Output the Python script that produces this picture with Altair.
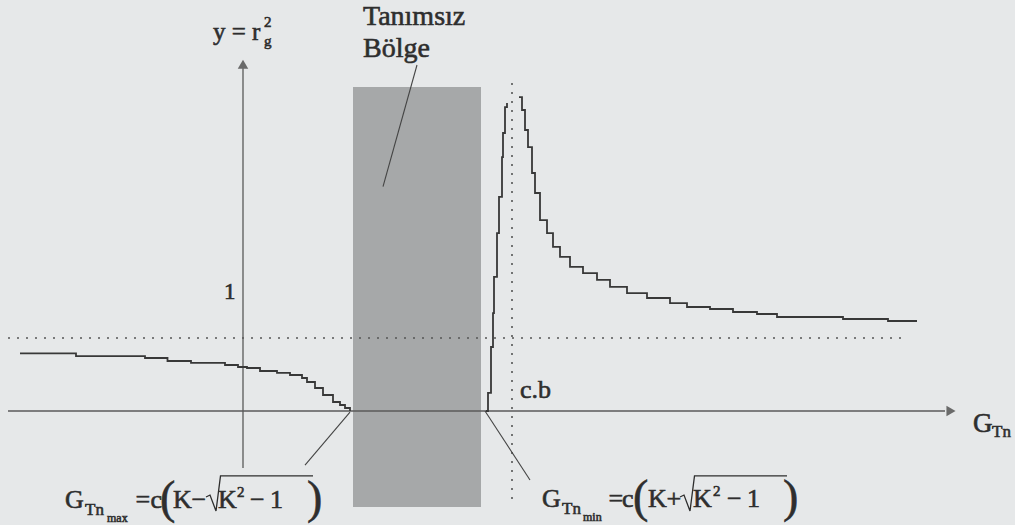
import altair as alt
import pandas as pd

# ---- curve r_g^2 versus G_Tn (step-like plotter trace) ----
left_x = [-2.23, -1.67, -0.98, -0.755, -0.52, -0.18, -0.05, 0.04, 0.17, 0.34, 0.47, 0.59, 0.64, 0.72, 0.80, 0.90, 0.97, 1.02, 1.07]
left_y = [0.79, 0.753, 0.726, 0.685, 0.658, 0.630, 0.603, 0.589, 0.548, 0.521, 0.493, 0.452, 0.397, 0.315, 0.219, 0.123, 0.082, 0.041, 0.0]

rise_x = [2.43, 2.45, 2.48, 2.50, 2.51, 2.54, 2.56, 2.59, 2.60, 2.62, 2.64]
rise_y = [0.0, 0.247, 0.877, 1.342, 1.836, 2.438, 2.932, 3.479, 3.808, 4.164, 4.219]

fall_x = [2.76, 2.79, 2.82, 2.85, 2.89, 2.92, 2.97, 3.04, 3.10, 3.17, 3.27, 3.40, 3.54, 3.67, 3.84,
          4.04, 4.27, 4.44, 4.67, 4.90, 5.14, 5.34, 6.00, 6.45, 6.74]
fall_y = [4.301, 4.123, 3.849, 3.616, 3.260, 2.986, 2.616, 2.438, 2.247, 2.110, 1.973, 1.890, 1.795, 1.699, 1.616,
          1.548, 1.479, 1.425, 1.397, 1.356, 1.329, 1.288, 1.260, 1.233, 1.233]

# key abscissas
g_max = 1.10      # left edge of undefined region
g_min = 2.38      # right edge of undefined region
cb = 2.69         # c.b asymptote
x_axis_end = 7.02
y_axis_top = 4.74

# annotation texts: x, y (baseline), text, font size
lab_x = [-0.30, 0.21, 0.21, 1.20, 1.20, -0.19, 2.77, 7.30, 7.49,
         -1.78, -1.58, -1.36, -1.075, -0.925, -0.83, -0.70, -0.515, -0.25, -0.06, 0.07, 0.27, 0.64,
         2.99, 3.19, 3.40, 3.655, 3.79, 3.90, 4.05, 4.235, 4.50, 4.70, 4.84, 5.04, 5.40]
lab_y = [5.082, 5.00, 5.26, 5.288, 4.849, 1.534, 0.178, -0.288, -0.356,
         -1.329, -1.425, -1.521, -1.329, -1.329, -1.397, -1.329, -1.329, -1.329, -1.178, -1.329, -1.329, -1.397,
         -1.315, -1.411, -1.507, -1.315, -1.315, -1.384, -1.315, -1.315, -1.315, -1.164, -1.315, -1.315, -1.384]
lab_t = ["y = r", "g", "2", "Tanımsız", "Bölge", "1", "c.b", "G", "Tn",
         "G", "Tn", "max", "=", "c", "(", "K", "−", "K", "2", "−", "1", ")",
         "G", "Tn", "min", "=", "c", "(", "K", "+", "K", "2", "−", "1", ")"]
lab_s = [25, 15, 15, 28, 28, 23, 26, 27, 17,
         26, 17, 12, 26, 26, 46, 26, 26, 26, 15, 26, 26, 46,
         26, 17, 12, 26, 26, 46, 26, 26, 26, 15, 26, 26, 46]

# radical signs with their bars
rad_x = [-0.37, -0.33, -0.27, -0.225, 0.70, 4.37, 4.41, 4.47, 4.515, 5.44]
rad_y = [-1.178, -1.151, -1.370, -0.890, -0.890, -1.178, -1.151, -1.370, -0.890, -0.890]
rad_g = ["a"] * 5 + ["b"] * 5

XDOM = [-2.43, 7.72]
YDOM = [-1.5616, 5.6301]
INK = "#2e2e2e"
FONT = "Liberation Serif"

xs = alt.Scale(domain=XDOM, nice=False, zero=False)
ys = alt.Scale(domain=YDOM, nice=False, zero=False)
X = lambda f: alt.X(f, type="quantitative", scale=xs, axis=None)
Y = lambda f: alt.Y(f, type="quantitative", scale=ys, axis=None)

curve = pd.DataFrame({
    "x": left_x + rise_x + fall_x,
    "y": left_y + rise_y + fall_y,
    "branch": ["left"] * len(left_x) + ["rise"] * len(rise_x) + ["fall"] * len(fall_x),
})

region = pd.DataFrame({"x": [g_max], "x2": [g_min], "y": [4.438], "y2": [-1.315]})

axes = pd.DataFrame({
    "x": [-2.35, 0.0], "x2": [x_axis_end, 0.0],
    "y": [0.0, -0.78], "y2": [0.0, y_axis_top],
})

dots = pd.DataFrame({
    "x": [-2.35, cb], "x2": [6.60, cb],
    "y": [1.0, 4.493], "y2": [1.0, -1.219],
})

leaders = pd.DataFrame({
    "x": [1.74, 1.07, 2.42], "x2": [1.40, 0.62, 2.87],
    "y": [4.740, -0.014, 0.0], "y2": [3.073, -0.740, -0.945],
})

heads = pd.DataFrame({"x": [0.0, 7.08], "y": [4.75, 0.0], "shape": ["triangle-up", "triangle-right"]})

labels = pd.DataFrame({"x": lab_x, "y": lab_y, "t": lab_t, "s": lab_s})
rad = pd.DataFrame({"x": rad_x, "y": rad_y, "g": rad_g})

shade = alt.Chart(region).mark_rect(color="#a6a8a9").encode(x=X("x"), x2="x2", y=Y("y"), y2="y2")

dotted = alt.Chart(dots).mark_rule(color="#555555", strokeWidth=1.6, strokeDash=[2, 7]).encode(
    x=X("x"), x2="x2", y=Y("y"), y2="y2")

axis_lines = alt.Chart(axes).mark_rule(color="#5a5a5a", strokeWidth=1.3).encode(
    x=X("x"), x2="x2", y=Y("y"), y2="y2")

arrows = alt.Chart(heads).mark_point(filled=True, color="#6a6a6a", size=110, opacity=1).encode(
    x=X("x"), y=Y("y"), shape=alt.Shape("shape:N", scale=None))

leader_lines = alt.Chart(leaders).mark_rule(color="#444444", strokeWidth=1.1).encode(
    x=X("x"), x2="x2", y=Y("y"), y2="y2")

trace = alt.Chart(curve).mark_line(color="#383838", strokeWidth=1.8, interpolate="step-after").encode(
    x=X("x"), y=Y("y"), detail="branch:N", order=alt.Order("x:Q"))

radicals = alt.Chart(rad).mark_line(color=INK, strokeWidth=1.3).encode(
    x=X("x"), y=Y("y"), detail="g:N")

# a thin stroke gives the printed glyphs their slightly heavy look
texts = alt.Chart(labels).mark_text(
    align="left", baseline="alphabetic", font=FONT, color=INK, stroke=INK, strokeWidth=0.6
).encode(x=X("x"), y=Y("y"), text="t:N", size=alt.Size("s:Q", scale=None))

chart = alt.layer(shade, dotted, axis_lines, arrows, leader_lines, trace, radicals, texts).properties(
    width=1015, height=525, padding=0, autosize=alt.AutoSizeParams(type="none"),
    background="#e6e8e9",
).configure_view(stroke=None).configure_text(font=FONT)

chart.save("out.html", embed_options={"renderer": "svg", "actions": False})
